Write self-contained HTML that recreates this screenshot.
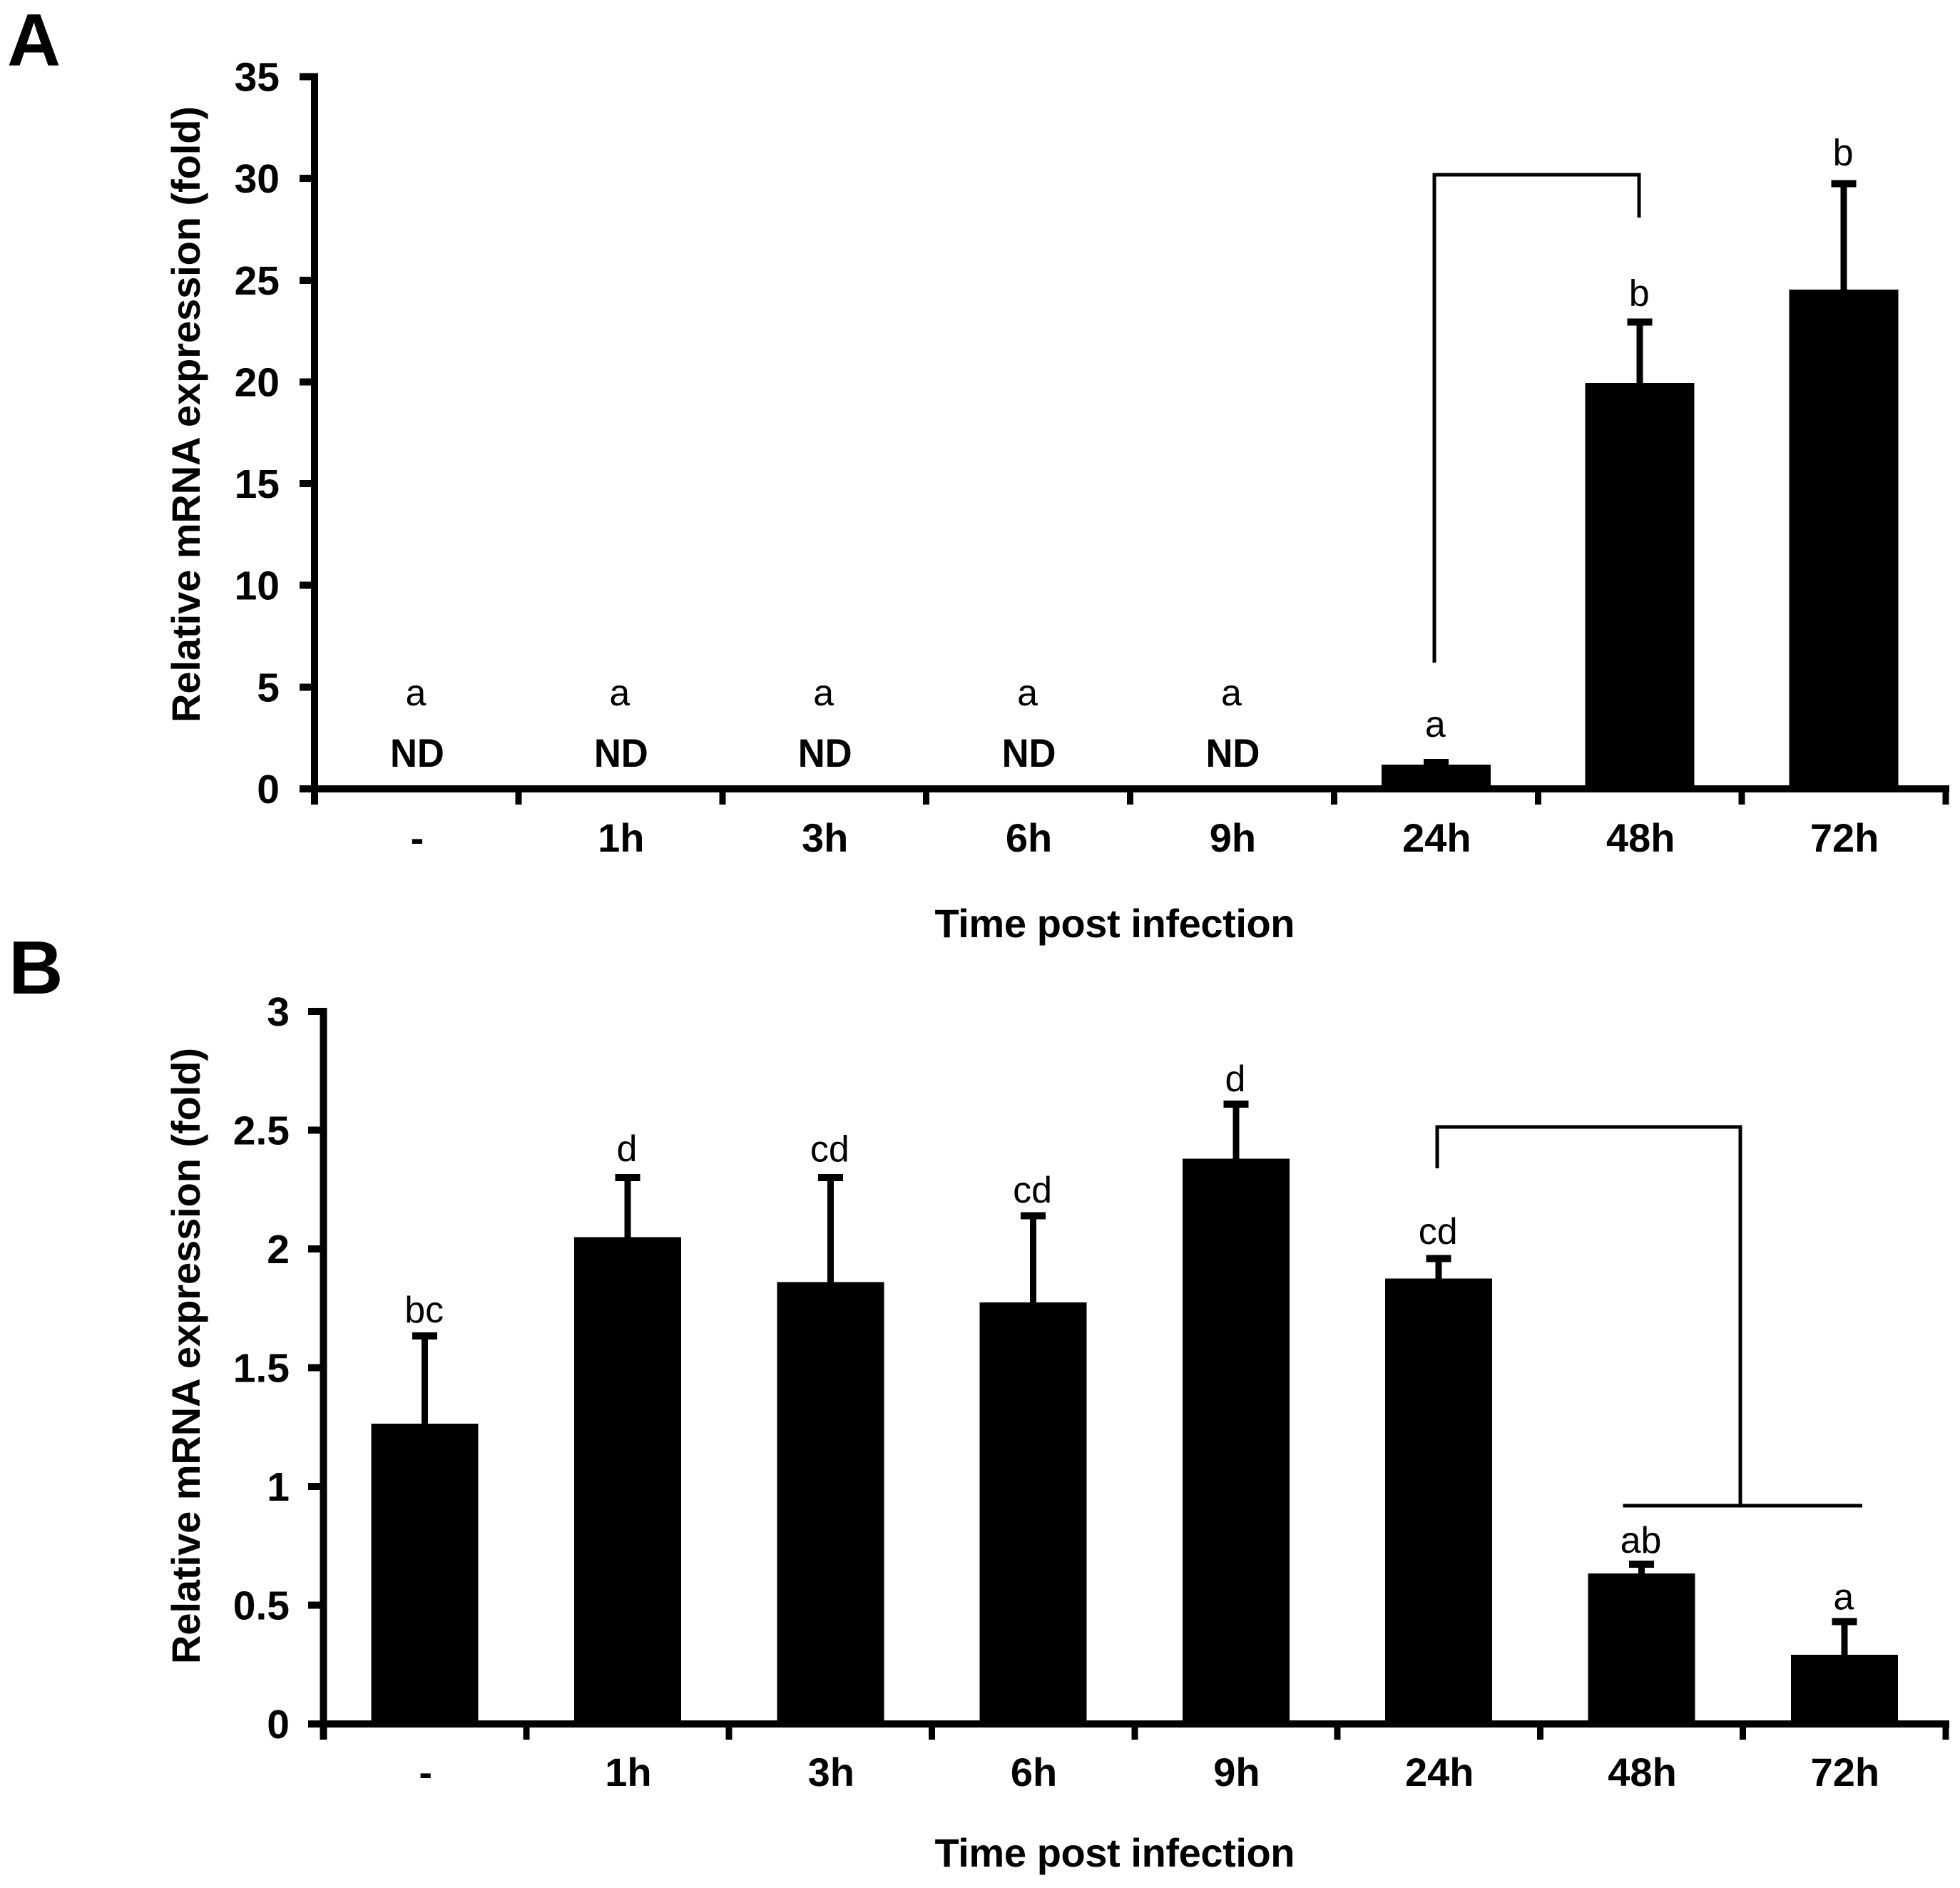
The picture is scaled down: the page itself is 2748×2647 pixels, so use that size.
<!DOCTYPE html>
<html lang="en">
<head>
<meta charset="utf-8">
<title>Relative mRNA expression over time post infection</title>
<style>
  html, body { margin: 0; padding: 0; background: #fff; }
  svg { display: block; }
  text { fill: #000; font-family: "Liberation Sans", Arial, sans-serif; }
  .b { font-weight: bold; }
</style>
</head>
<body>
<svg id="figure" xmlns="http://www.w3.org/2000/svg" width="2748" height="2647" viewBox="0 0 2748 2647">
  <rect x="0" y="0" width="2748" height="2647" fill="#fff"/>
  <text class="b" x="10" y="92" font-size="104">A</text>
  <text class="b" x="12" y="1393" font-size="106">B</text>
  <text class="b" font-size="56" text-anchor="middle" textLength="864" lengthAdjust="spacing" transform="translate(280 581) rotate(-90)">Relative mRNA expression (fold)</text>
  <text class="b" font-size="56" text-anchor="middle" textLength="864" lengthAdjust="spacing" transform="translate(280 1901) rotate(-90)">Relative mRNA expression (fold)</text>
  <text class="b" font-size="56" text-anchor="middle" textLength="505" lengthAdjust="spacing" x="1563" y="1314">Time post infection</text>
  <text class="b" font-size="56" text-anchor="middle" textLength="505" lengthAdjust="spacing" x="1563" y="2617">Time post infection</text>
</svg>
<script>
// Shared categories
const categories = ['-', '1h', '3h', '6h', '9h', '24h', '48h', '72h'];

// Panel A data
const ticksA = [0, 5, 10, 15, 20, 25, 30, 35];
const valuesA = [null, null, null, null, null, 1.19, 19.94, 24.54];
const errorTopsA = [null, null, null, null, null, 1.3, 22.95, 29.75];
const lettersA = ['a', 'a', 'a', 'a', 'a', 'a', 'b', 'b'];
const letterLevelsA = [4.10, 4.10, 4.10, 4.10, 4.10, 2.56, 23.75, 30.65];
const notDetectedLevelA = 1.09;

// Panel B data
const ticksB = [0, 0.5, 1, 1.5, 2, 2.5, 3];
const valuesB = [1.265, 2.05, 1.86, 1.775, 2.38, 1.875, 0.634, 0.291];
const errorTopsB = [1.633, 2.30, 2.30, 2.14, 2.61, 1.96, 0.672, 0.431];
const lettersB = ['bc', 'd', 'cd', 'cd', 'd', 'cd', 'ab', 'a'];
const letterLevelsB = [1.691, 2.369, 2.368, 2.195, 2.664, 2.021, 0.721, 0.482];

const svg = document.getElementById('figure');
const NS = 'http://www.w3.org/2000/svg';

function make(tag, attrs) {
  const el = document.createElementNS(NS, tag);
  for (const k in attrs) el.setAttribute(k, attrs[k]);
  svg.appendChild(el);
  return el;
}
function box(x0, y0, x1, y1) {
  return make('rect', { x: x0, y: y0, width: x1 - x0, height: y1 - y0, fill: '#000', 'shape-rendering': 'crispEdges' });
}

function drawPanel(p) {
  const x = i => p.axisX + (p.rightX - p.axisX) * i / categories.length;
  const mid = i => x(i + 0.5);
  const y = v => p.zeroY - (v / p.maxV) * (p.zeroY - p.topY);
  const half = p.lineW / 2;

  // Bars
  p.values.forEach((v, i) => {
    if (v === null) return;
    const bar = box(mid(i) - p.barW / 2, y(v), mid(i) + p.barW / 2, p.zeroY);
    
    
  });

  // Error bars
  p.errs.forEach((e, i) => {
    if (e === null) return;
    const stem = box(mid(i) - 4.5, y(e), mid(i) + 4.5, y(p.values[i]));
    
    
    const cap = box(mid(i) - 17.5, y(e) - 5, mid(i) + 17.5, y(e) + 5);
    
    
  });

  // Axes
  const yAxis = box(p.axisX - half, y(p.maxV) - half, p.axisX + half, p.tickBottom);
  
  
  const xAxis = box(p.tickLeft, p.zeroY - half, p.rightX + 5, p.zeroY + half);
  
  

  // Y ticks and labels
  p.ticks.forEach(t => {
    const tick = box(p.tickLeft, y(t) - half, p.axisX, y(t) + half);
    
    
    const lab = make('text', { x: p.labelRight, y: y(t) + 20, 'font-size': 57, 'font-weight': 'bold', 'text-anchor': 'end' });
    lab.textContent = String(t);
    
    
  });

  // X ticks
  for (let i = 1; i <= categories.length; i++) {
    const tick = box(x(i) - 4.5, p.zeroY, x(i) + 4.5, p.tickBottom);
    
    
  }

  // Category labels, significance letters
  categories.forEach((c, i) => {
    const lab = make('text', { x: mid(i) + 1, y: p.catBaseline, 'font-size': 56, 'font-weight': 'bold', 'text-anchor': 'middle' });
    lab.textContent = c;
    
    
    const sig = make('text', { x: mid(i) - 1, y: y(p.levels[i]), 'font-size': 52, 'text-anchor': 'middle' });
    sig.textContent = p.letters[i];
    
    
    if (p.values[i] === null) {
      const nd = make('text', { x: mid(i) + 1, y: y(p.ndLevel), 'font-size': 56, 'font-weight': 'bold', 'text-anchor': 'middle', textLength: 76, lengthAdjust: 'spacingAndGlyphs' });
      nd.textContent = 'ND';
      
      
    }
  });

  return { mid, x, y };
}

const panelA = drawPanel({
  id: 'a', axisX: 441, rightX: 2728, zeroY: 1106, topY: 107.5, maxV: 35,
  lineW: 10, tickLeft: 420, tickBottom: 1128, labelRight: 392, catBaseline: 1194, barW: 153,
  ticks: ticksA, values: valuesA, errs: errorTopsA, letters: lettersA, levels: letterLevelsA, ndLevel: notDetectedLevelA
});
const panelB = drawPanel({
  id: 'b', axisX: 453.5, rightX: 2728, zeroY: 2417, topY: 1418, maxV: 3,
  lineW: 10, tickLeft: 432, tickBottom: 2439, labelRight: 406, catBaseline: 2504, barW: 150,
  ticks: ticksB, values: valuesB, errs: errorTopsB, letters: lettersB, levels: letterLevelsB, ndLevel: 0
});

// Comparison brackets
function bracketLine(x0, y0, x1, y1, name) {
  const w = 5;
  const el = (x0 === x1)
    ? box(x0 - w / 2, Math.min(y0, y1) - w / 2, x0 + w / 2, Math.max(y0, y1))
    : box(x0, y0 - w / 2, x1, y0 + w / 2);
  
  
}
const ax0 = panelA.mid(5) - 2.5, ax1 = panelA.mid(6) - 1;
bracketLine(ax0, panelA.y(30.18), ax0, panelA.y(6.2), 'bracket-a-left');
bracketLine(ax1, panelA.y(30.18), ax1, panelA.y(28.08), 'bracket-a-right');
bracketLine(ax0 - 2.5, panelA.y(30.18), ax1 + 2.5, panelA.y(30.18), 'bracket-a-top');

const bx0 = panelB.mid(5) - 2, bx1 = panelB.x(7) - 3.5;
bracketLine(bx0, panelB.y(2.514), bx0, panelB.y(2.34), 'bracket-b-left');
bracketLine(bx0 - 2.5, panelB.y(2.514), bx1 + 2.5, panelB.y(2.514), 'bracket-b-top');
bracketLine(bx1, panelB.y(2.514), bx1, panelB.y(0.919), 'bracket-b-right');
bracketLine(panelB.mid(6) - 26, panelB.y(0.919), panelB.mid(7) + 25, panelB.y(0.919), 'bracket-b-lower');
</script>
</body>
</html>
